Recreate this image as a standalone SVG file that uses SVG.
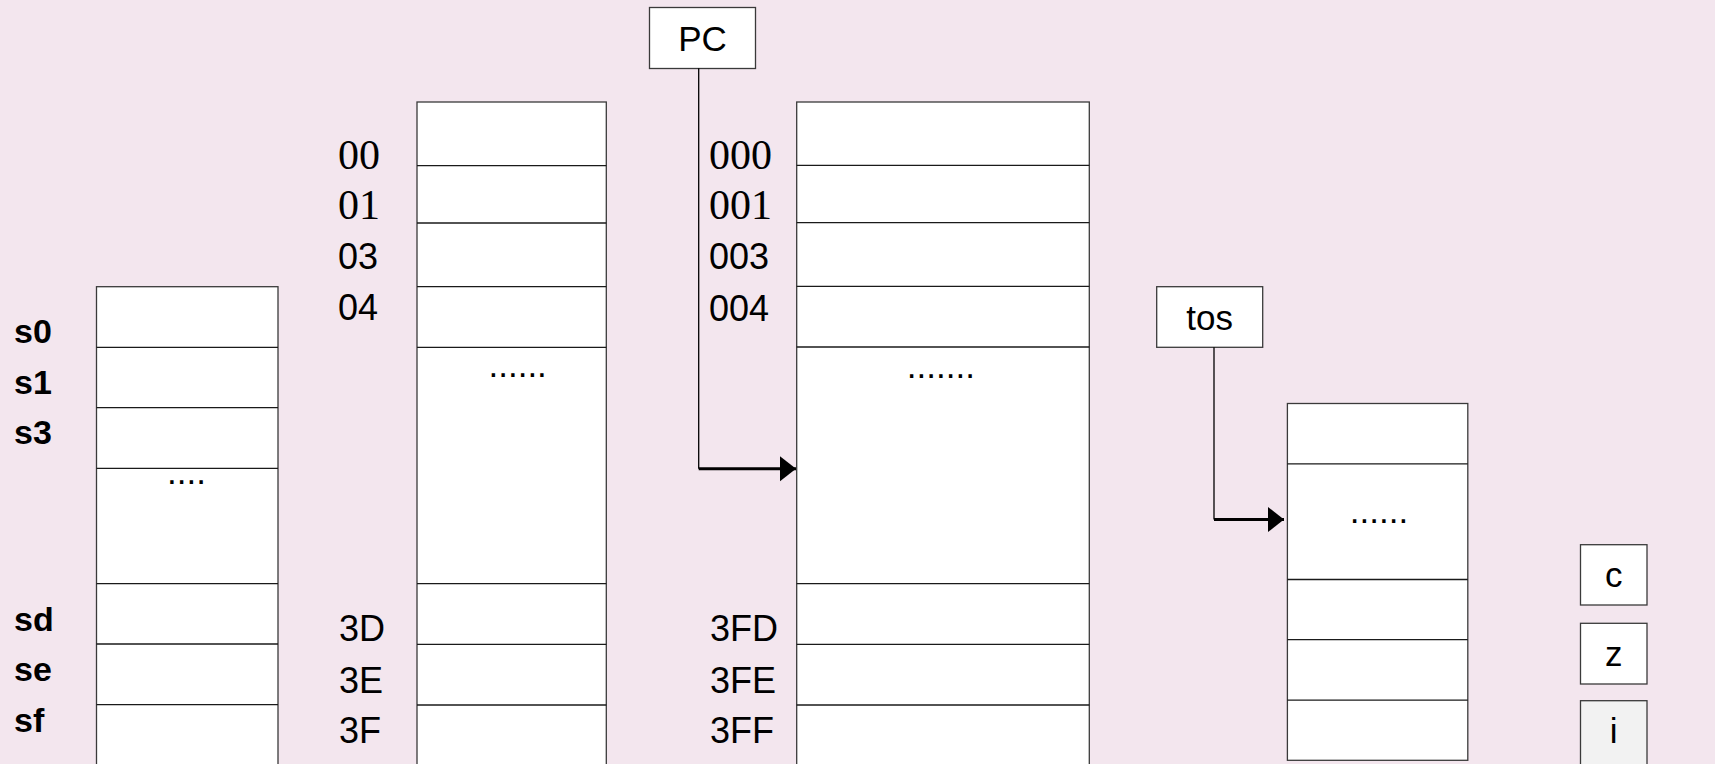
<svg xmlns="http://www.w3.org/2000/svg" width="1715" height="764" viewBox="0 0 1715 764">
  <style>
    .cell { fill: #ffffff; stroke: #3a3a3a; stroke-width: 1.3; }
    .sep { stroke: #1a1a1a; stroke-width: 1.3; }
    .box { fill: #ffffff; stroke: #3a3a3a; stroke-width: 1.3; }
    .sans { font-family: "Liberation Sans", Arial, sans-serif; font-size: 35px; fill: #000; }
    .addr { font-family: "Liberation Sans", Arial, sans-serif; font-size: 36px; fill: #000; }
    .serif { font-family: "Liberation Serif", "Times New Roman", serif; font-size: 42px; fill: #000; }
    .bold { font-family: "Liberation Sans", Arial, sans-serif; font-size: 34px; font-weight: bold; fill: #000; }
    .dots { font-family: "Liberation Sans", Arial, sans-serif; font-size: 35px; fill: #000; }
    .mid { text-anchor: middle; }
    .wire { fill: none; stroke: #000; stroke-width: 1.3; }
    .wire-thick { fill: none; stroke: #000; stroke-width: 3; }
  </style>
  <defs>
    <marker id="head" markerUnits="userSpaceOnUse" markerWidth="16" markerHeight="26" refX="16" refY="12.5" orient="auto">
      <path d="M0,0 L16,12.5 L0,25 Z" fill="#000"/>
    </marker>
  </defs>

  <rect x="0" y="0" width="1715" height="764" fill="#f3e6ee"/>

  <!-- register file s0..sf -->
  <g id="registers">
    <rect class="cell" x="96.5" y="286.7" width="181.5" height="490"/>
    <line class="sep" x1="96.5" y1="347.3" x2="278" y2="347.3"/>
    <line class="sep" x1="96.5" y1="407.7" x2="278" y2="407.7"/>
    <line class="sep" x1="96.5" y1="468.3" x2="278" y2="468.3"/>
    <line class="sep" x1="96.5" y1="583.7" x2="278" y2="583.7"/>
    <line class="sep" x1="96.5" y1="644" x2="278" y2="644"/>
    <line class="sep" x1="96.5" y1="704.7" x2="278" y2="704.7"/>
    <text class="dots" x="167.1" y="484.2">....</text>
    <text class="bold" x="14" y="342.7">s0</text>
    <text class="bold" x="14" y="394">s1</text>
    <text class="bold" x="14" y="444">s3</text>
    <text class="bold" x="14" y="630.7">sd</text>
    <text class="bold" x="14" y="680.7">se</text>
    <text class="bold" x="14" y="731.7">sf</text>
  </g>

  <!-- data memory 00..3F -->
  <g id="data-memory">
    <rect class="cell" x="417" y="102" width="189.3" height="680"/>
    <line class="sep" x1="417" y1="165.7" x2="606.3" y2="165.7"/>
    <line class="sep" x1="417" y1="223" x2="606.3" y2="223"/>
    <line class="sep" x1="417" y1="286.7" x2="606.3" y2="286.7"/>
    <line class="sep" x1="417" y1="347.3" x2="606.3" y2="347.3"/>
    <line class="sep" x1="417" y1="583.7" x2="606.3" y2="583.7"/>
    <line class="sep" x1="417" y1="644.3" x2="606.3" y2="644.3"/>
    <line class="sep" x1="417" y1="705" x2="606.3" y2="705"/>
    <text class="dots" x="488.5" y="377.2">......</text>
    <text class="serif" x="338" y="169">00</text>
    <text class="serif" x="338" y="219">01</text>
    <text class="addr" x="338" y="269">03</text>
    <text class="addr" x="338" y="320">04</text>
    <text class="addr" x="339" y="641">3D</text>
    <text class="addr" x="339" y="692.7">3E</text>
    <text class="addr" x="339" y="743.3">3F</text>
  </g>

  <!-- program memory 000..3FF -->
  <g id="program-memory">
    <rect class="cell" x="796.7" y="102" width="292.6" height="680"/>
    <line class="sep" x1="796.7" y1="165.3" x2="1089.3" y2="165.3"/>
    <line class="sep" x1="796.7" y1="222.7" x2="1089.3" y2="222.7"/>
    <line class="sep" x1="796.7" y1="286.3" x2="1089.3" y2="286.3"/>
    <line class="sep" x1="796.7" y1="347" x2="1089.3" y2="347"/>
    <line class="sep" x1="796.7" y1="583.7" x2="1089.3" y2="583.7"/>
    <line class="sep" x1="796.7" y1="644.3" x2="1089.3" y2="644.3"/>
    <line class="sep" x1="796.7" y1="705" x2="1089.3" y2="705"/>
    <text class="dots" x="906.8" y="377.6">.......</text>
    <text class="serif" x="709" y="169.3">000</text>
    <text class="serif" x="709" y="219">001</text>
    <text class="addr" x="709" y="269.3">003</text>
    <text class="addr" x="709" y="321">004</text>
    <text class="addr" x="710" y="641">3FD</text>
    <text class="addr" x="710" y="692.7">3FE</text>
    <text class="addr" x="710" y="743.3">3FF</text>
  </g>

  <!-- program counter -->
  <g id="pc">
    <rect class="box" x="649.5" y="7.5" width="106" height="61"/>
    <text class="sans mid" x="702.5" y="50.7">PC</text>
  </g>

  <!-- top-of-stack pointer -->
  <g id="tos">
    <rect class="box" x="1156.7" y="286.7" width="106" height="60.6"/>
    <text class="sans mid" x="1209.7" y="330">tos</text>
  </g>

  <!-- call stack -->
  <g id="call-stack">
    <rect class="cell" x="1287.4" y="403.5" width="180.4" height="356.8"/>
    <line class="sep" x1="1287.4" y1="463.8" x2="1467.8" y2="463.8"/>
    <line class="sep" x1="1287.4" y1="579.5" x2="1467.8" y2="579.5"/>
    <line class="sep" x1="1287.4" y1="639.6" x2="1467.8" y2="639.6"/>
    <line class="sep" x1="1287.4" y1="700.2" x2="1467.8" y2="700.2"/>
    <text class="dots" x="1349.8" y="522.5">......</text>
  </g>

  <!-- status flags -->
  <g id="flag-c">
    <rect class="box" x="1580.5" y="544.7" width="66.5" height="60.3"/>
    <text class="sans mid" x="1613.7" y="587">c</text>
  </g>
  <g id="flag-z">
    <rect class="box" x="1580.5" y="623.3" width="66.5" height="60.7"/>
    <text class="sans mid" x="1613.7" y="665.5">z</text>
  </g>
  <g id="flag-i">
    <rect class="box" x="1580.5" y="700.7" width="66.5" height="80" style="fill:#f2f2f2"/>
    <text class="sans mid" x="1613.7" y="743">i</text>
  </g>

  <!-- pointer connectors -->
  <g id="connectors">
    <line class="wire" x1="698.7" y1="68.3" x2="698.7" y2="468.7"/>
    <line class="wire-thick" x1="698.7" y1="468.7" x2="796" y2="468.7" marker-end="url(#head)"/>
    <line class="wire" x1="1214" y1="347.3" x2="1214" y2="519.5"/>
    <line class="wire-thick" x1="1214" y1="519.5" x2="1284" y2="519.5" marker-end="url(#head)"/>
  </g>
</svg>
